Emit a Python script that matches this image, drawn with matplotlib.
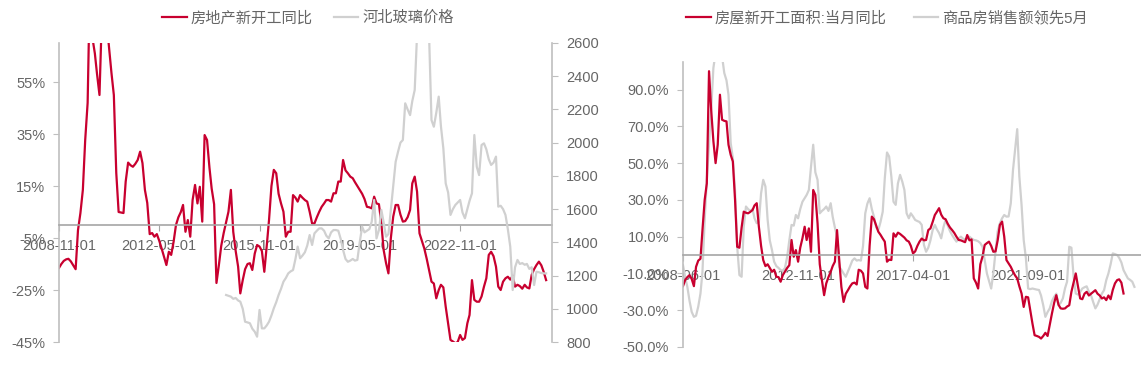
import matplotlib
matplotlib.use("Agg")
import matplotlib.pyplot as plt
import pandas as pd
from matplotlib.lines import Line2D
from matplotlib.ticker import FuncFormatter

plt.rcParams["font.family"] = ["Liberation Sans", "Noto Sans CJK SC", "DejaVu Sans"]
plt.rcParams["axes.unicode_minus"] = False

RED = "#C8002F"
LIGHT = "#D0D0D0"
AXIS_GRAY = "#A6A6A6"
SPINE_GRAY = "#BFBFBF"
TEXT_GRAY = "#666666"

# ---- left panel: 房地产新开工同比 (%, monthly from 2008-11) vs 河北玻璃价格 (from 2014-09)
LEFT_START = "2008-11-01"
STARTS_YOY = [
    -16.5, -15, -13.8, -13.2, -13, -14, -15.5, -17, -2, 4.6,
    13.5, 32.7, 47, 95, 72, 66, 58, 50, 80, 85,
    78, 68, 58.4, 50, 20, 5, 4.8, 4.6, 16.7, 24,
    23, 22.4, 23.5, 25, 28.2, 23.8, 13.5, 8.5, -3.5, -3.1,
    -4.5, -3.5, -6, -9, -12.2, -15.4, -10.3, -11.5, -6.4, 0,
    3, 5, 7.7, -2.6, 1.9, -4.5, 9.6, 15.4, 8.3, 14.7,
    1.3, 34.6, 32.7, 22, 14, 8, -22.3, -15.4, -8, -3.1,
    1, 5.1, 13.5, -2.6, -10, -16, -26.3, -21.2, -17, -15,
    -14.7, -17.3, -11, -7.7, -8.3, -10, -18, -8, 1.9, 15,
    21.2, 19.9, 12, 8.3, 5.1, -4.5, -2.6, -2.6, 11.5, 10.5,
    9, 11.5, 10.5, 9.6, 9, 5.1, 0.6, 0.6, 3, 5.1,
    7, 8.3, 9.6, 9.6, 9, 12.2, 12.2, 16.7, 16.7, 25,
    21, 19.9, 18.6, 18, 16.5, 15, 13.5, 12, 10, 7,
    6.8, 6.4, 10.9, 8.3, 8, 0.6, -9.6, -14.7, -18.6, -5,
    3.2, 7.7, 7.7, 4, 1.3, 1.5, 3, 5.8, 16, 18.6,
    12.8, -3.2, -6, -9, -13, -17.3, -21.8, -22.5, -28.2, -25,
    -23, -24, -31.4, -38, -44.2, -44.8, -45.5, -45, -42.3, -44.2,
    -43.5, -37.8, -34.6, -21.2, -28.8, -29.5, -29.5, -27.5, -23.7, -20.5,
    -11.5, -10.3, -12, -16, -23.7, -25, -21.8, -20.5, -19.9, -21,
    -19.5, -23.7, -23, -23.5, -24.5, -23, -24, -24.4, -19.2, -17,
    -15.4, -14.1, -15.5, -18, -21.2,
]
GLASS_START = "2014-09-01"
GLASS_PRICE = [
    1083, 1078, 1073, 1060, 1065, 1050, 1043, 1000, 922, 918,
    913, 880, 862, 832, 993, 882, 882, 900, 922, 960,
    1003, 1040, 1083, 1120, 1163, 1185, 1213, 1225, 1233, 1300,
    1374, 1304, 1320, 1340, 1380, 1444, 1384, 1454, 1470, 1484,
    1484, 1470, 1440, 1424, 1460, 1474, 1474, 1470, 1420, 1354,
    1300, 1283, 1290, 1300, 1290, 1294, 1400, 1494, 1460, 1470,
    1480, 1524, 1655, 1424, 1474, 1595, 1520, 1434, 1450, 1595,
    1735, 1885, 1946, 2000, 2016, 2237, 2200, 2166, 2250, 2317,
    2650, 3000, 3200, 3100, 2900, 2650, 2136, 2096, 2180, 2277,
    2100, 1966, 1755, 1700, 1565, 1600, 1625, 1640, 1655, 1580,
    1545, 1600, 1650, 1695, 2046, 1855, 1805, 1986, 1996, 1960,
    1900, 1866, 1880, 1916, 1615, 1620, 1600, 1565, 1480, 1374,
    1113, 1250, 1294, 1270, 1275, 1265, 1270, 1240, 1250, 1143,
    1223, 1220, 1215, 1213, 1213,
]
LEFT_XTICKS = ["2008-11-01", "2012-05-01", "2015-11-01", "2019-05-01", "2022-11-01"]
LEFT_YTICKS = [-45, -25, -5, 15, 35, 55]
GLASS_TICKS = [800, 1000, 1200, 1400, 1600, 1800, 2000, 2200, 2400, 2600]
LEFT_LABELS = ["房地产新开工同比", "河北玻璃价格"]

# ---- right panel: 房屋新开工面积:当月同比 vs 商品房销售额领先5月 (%, monthly from 2008-06)
RIGHT_START = "2008-06-01"
AREA_YOY = [
    -16.9, -13.6, -12, -10.9, -13, -16.9, -6.4, -3, -2, 13.6,
    30, 39, 100, 79, 62, 50, 60, 87.2, 73.6, 73,
    72.7, 60, 54.5, 50.9, 30, 4.5, 4, 15, 23.6, 23,
    22.7, 23.5, 24.5, 27, 28.2, 15.4, 5, -2.7, -6, -5,
    -7, -9.1, -8, -11.8, -12, -14.5, -10.9, -9, -7, -5.5,
    8.2, -0.9, 2.7, -3.6, 4, 9.1, 15.4, 8.2, 14.5, 1.8,
    35.4, 32.7, 17.3, -5, -13.6, -21.8, -15.4, -12, -9.1, -6,
    -3.6, 13.6, -2.7, -17.3, -25.5, -21, -19.1, -17, -15.4, -15,
    -16, -8, -8.5, -10, -17.3, -18.2, 5, 20.9, 19.5, 16,
    12.7, 11, 9, 7.3, -3.6, -2.5, -2.7, 11.8, 10, 12.2,
    11.5, 10.5, 9.5, 8, 7.3, 5, 0.9, 2, 5, 7.3,
    9, 8, 8.2, 13.6, 14.5, 18, 21.8, 23.5, 25.5, 22,
    20, 19.5, 17, 15, 13.6, 12, 10, 8.2, 8, 7.5,
    7, 10.9, 8, 8.5, -12.7, -15, -18.2, -5, -0.9, 5.5,
    6.5, 7.3, 5, 1.8, 2, 8, 16.4, 18.2, 10, -2.7,
    -4.5, -6.4, -9, -11, -12.7, -17, -20.9, -28.2, -22.7, -23,
    -30, -37.3, -43.6, -44, -44.5, -45.4, -44, -42.3, -44, -38,
    -31.8, -26, -21.8, -27, -29, -29.2, -29, -28, -27.3, -20,
    -15, -10, -17, -23.6, -24, -21, -20, -22, -21, -20,
    -19.1, -21, -22, -23.6, -23, -24.5, -22, -24, -19, -15.4,
    -13.6, -13.2, -15, -20.9,
]
SALES_LEAD5 = [
    -5.5, -12, -17.3, -25, -30.9, -33.6, -33, -28, -20.9, -9.1,
    19.1, 40.9, 60, 79, 101.7, 110, 115, 112, 108, 99,
    95, 87.2, 60.9, 52.7, 35, 4.5, -10.9, -11.8, 15.4, 26.4,
    25, 24, 25, 20, 17.3, 18, 33.6, 40.9, 37.3, 19.1,
    8, 2.7, -3.6, -6, -7, -8.2, -8.5, -7, -0.9, 8,
    16.4, 16, 21.8, 20, 25, 29, 31, 32.7, 35.4, 48,
    60, 45, 40.9, 22.7, 24, 25, 26.4, 24, 28.2, 20.9,
    15, 10, -6.4, -8, -10, -11.8, -9, -6, -3, -1.8,
    -3, -2.7, -3, 5, 22.7, 28, 30.9, 25, 20.9, 15,
    13.6, 18, 23.6, 41.8, 55.8, 53.6, 42.7, 29, 27.3, 39,
    43.6, 40, 35.4, 22.7, 20, 22.7, 21, 19.1, 18.5, 18,
    16.4, 5.5, 1.8, 4, 8, 13.6, 16.4, 14, 12, 9.1,
    15, 19.1, 16, 13, 10.9, 9, 7.3, 9, 10, 9,
    8.5, 9, 10, 9, 8.2, 8, 7.5, 6.5, 4.5, -2.7,
    -10, -14, -18.2, -10, 2, 13, 17.3, 20, 21.8, 20.9,
    21, 28.2, 46.3, 57, 68.5, 42.7, 27.3, 8.2, -1.8, -18.2,
    -18.5, -18.2, -18.5, -18.8, -19, -22, -27.3, -33.6, -31, -29,
    -25, -22.7, -21, -27.3, -26, -23.6, -18, -14.5, 4.5, 4,
    -11.8, -20.9, -21.5, -20, -18.2, -17.5, -17, -20, -22, -25.5,
    -29, -27, -24, -21, -19.1, -13.6, -10, -5, 0.9, 0.5,
    0, -1.5, -4, -8.2, -10.5, -12.7, -13.5, -14.5, -17.3,
]
RIGHT_XTICKS = ["2008-06-01", "2012-11-01", "2017-04-01", "2021-09-01"]
RIGHT_YTICKS = [-50, -30, -10, 10, 30, 50, 70, 90]
RIGHT_LABELS = ["房屋新开工面积:当月同比", "商品房销售额领先5月"]


def monthly(start, values):
    return pd.date_range(start, periods=len(values), freq="MS")


def style_date_axis(ax, ticks):
    ax.spines["bottom"].set_position(("data", 0))
    ax.spines["bottom"].set_color(AXIS_GRAY)
    ax.spines["bottom"].set_linewidth(1.2)
    ax.spines["top"].set_visible(False)
    ax.spines["right"].set_visible(False)
    ax.spines["left"].set_color(SPINE_GRAY)
    ax.spines["left"].set_linewidth(1.2)
    tick_dates = [pd.Timestamp(t) for t in ticks]
    ax.set_xticks(tick_dates)
    ax.set_xticklabels(ticks)
    ax.tick_params(axis="x", direction="out", length=4, color=AXIS_GRAY,
                   labelcolor=TEXT_GRAY, labelsize=10.5, pad=6)
    ax.tick_params(axis="y", direction="out", length=4, color=SPINE_GRAY,
                   labelcolor=TEXT_GRAY, labelsize=10.5, pad=6)


def main():
    fig = plt.figure(figsize=(11.41, 3.65), dpi=100)

    # left panel
    ax1 = fig.add_axes([59 / 1141, 23 / 365, 493 / 1141, 299 / 365])
    ax1.plot(monthly(LEFT_START, STARTS_YOY), STARTS_YOY, color=RED, lw=1.6)
    ax1.set_ylim(-45, 70)
    ax1.set_yticks(LEFT_YTICKS)
    ax1.yaxis.set_major_formatter(FuncFormatter(lambda v, _: f"{v:.0f}%"))
    ax1.set_xlim(pd.Timestamp("2008-11-01"), pd.Timestamp("2026-01-15"))
    style_date_axis(ax1, LEFT_XTICKS)

    ax2 = ax1.twinx()
    ax2.plot(monthly(GLASS_START, GLASS_PRICE), GLASS_PRICE, color=LIGHT, lw=1.6)
    ax2.set_ylim(800, 2600)
    ax2.set_yticks(GLASS_TICKS)
    for side in ("top", "left", "bottom"):
        ax2.spines[side].set_visible(False)
    ax2.spines["right"].set_color(SPINE_GRAY)
    ax2.spines["right"].set_linewidth(1.2)
    ax2.tick_params(axis="y", direction="out", length=4, color=SPINE_GRAY,
                    labelcolor=TEXT_GRAY, labelsize=10.5, pad=6)

    handles = [Line2D([], [], color=RED, lw=1.6), Line2D([], [], color=LIGHT, lw=1.6)]
    fig.legend(handles, LEFT_LABELS, loc="center", bbox_to_anchor=(308 / 1141, 1 - 18 / 365),
               ncol=2, frameon=False, fontsize=11, handlelength=1.6, handletextpad=0.25,
               columnspacing=1.4, labelcolor=TEXT_GRAY)

    # right panel
    ax3 = fig.add_axes([683 / 1141, 18 / 365, 458 / 1141, 285 / 365])
    ax3.plot(monthly(RIGHT_START, SALES_LEAD5), SALES_LEAD5, color=LIGHT, lw=1.6)
    ax3.plot(monthly(RIGHT_START, AREA_YOY), AREA_YOY, color=RED, lw=1.6)
    ax3.set_ylim(-50, 105)
    ax3.set_yticks(RIGHT_YTICKS)
    ax3.yaxis.set_major_formatter(FuncFormatter(lambda v, _: f"{v:.1f}%"))
    ax3.set_xlim(pd.Timestamp("2008-06-01"), pd.Timestamp("2026-01-01"))
    style_date_axis(ax3, RIGHT_XTICKS)

    fig.legend(handles, RIGHT_LABELS, loc="center", bbox_to_anchor=(887 / 1141, 1 - 18 / 365),
               ncol=2, frameon=False, fontsize=11, handlelength=1.6, handletextpad=0.25,
               columnspacing=1.8, labelcolor=TEXT_GRAY)

    fig.savefig("out.png", dpi=100)


if __name__ == "__main__":
    main()
